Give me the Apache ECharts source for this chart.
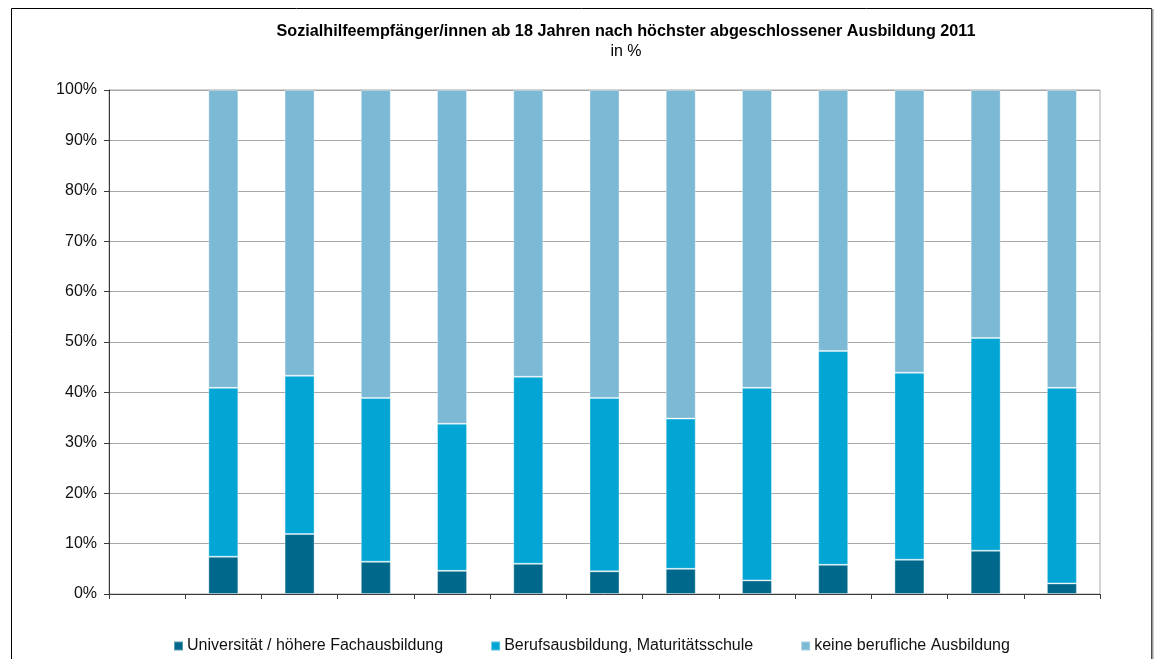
<!DOCTYPE html>
<html>
<head>
<meta charset="utf-8">
<script src="https://cdn.jsdelivr.net/npm/echarts@6/dist/echarts.min.js"></script>
<style>
  html, body { margin: 0; padding: 0; background: #fff; }
  #chart { width: 1162px; height: 659px; }
</style>
</head>
<body>
<div id="chart"></div>
<script>
// Category slots along the x axis (labels are not shown; the first slot has no data)
const categories = ['', 'A', 'B', 'C', 'D', 'E', 'F', 'G', 'H', 'I', 'J', 'K', 'L'];

// Shares in percent per category
const universitaet = [null, 7.4, 11.9, 6.4, 4.6, 6.0, 4.5, 5.0, 2.7, 5.8, 6.8, 8.6, 2.1];
const berufsausbildung = [null, 33.5, 31.4, 32.5, 29.2, 37.1, 34.4, 29.8, 38.2, 42.4, 37.1, 42.2, 38.8];
const keineAusbildung = [null, 59.1, 56.7, 61.1, 66.2, 56.9, 61.1, 65.2, 59.1, 51.8, 56.1, 49.2, 59.1];

const seriesNames = [
  'Universität / höhere Fachausbildung',
  'Berufsausbildung, Maturitätsschule',
  'keine berufliche Ausbildung'
];
const seriesColors = ['#00698b', '#02a5d3', '#7bb9d4'];

const yTicks = [0, 10, 20, 30, 40, 50, 60, 70, 80, 90, 100];

const sans = '"Liberation Sans", Arial, sans-serif';

const chart = echarts.init(document.getElementById('chart'), null, { renderer: 'canvas' });

function barSeries(name, data, color) {
  return {
    name: name,
    type: 'bar',
    stack: 'total',
    barWidth: 30,
    data: data,
    itemStyle: { color: color, borderColor: 'rgba(255,255,255,0.35)', borderWidth: 1 },
    emphasis: { disabled: true }
  };
}

chart.setOption({
  animation: false,
  backgroundColor: '#fff',
  title: {
    text: 'Sozialhilfeempfänger/innen ab 18 Jahren nach höchster abgeschlossener Ausbildung 2011',
    subtext: 'in %',
    left: 621,
    textAlign: 'center',
    top: 19,
    itemGap: 4,
    textStyle: { fontFamily: sans, fontWeight: 'bold', fontSize: 16.2, color: '#000' },
    subtextStyle: { fontFamily: sans, fontSize: 16, color: '#000' }
  },
  legend: {
    top: 633,
    left: 168,
    itemWidth: 9,
    itemHeight: 9,
    itemGap: 47,
    icon: 'rect',
    textStyle: { fontFamily: sans, fontSize: 16, color: '#111', padding: [0, 0, 0, -1] },
    data: seriesNames
  },
  grid: {
    left: 109, right: 62, top: 90, bottom: 65,
    show: true, borderColor: '#a6a6a6', borderWidth: 1
  },
  xAxis: {
    type: 'category',
    data: categories,
    boundaryGap: true,
    axisLine: { lineStyle: { color: '#3a3a3a', width: 1 } },
    axisTick: { show: true, length: 5, inside: false, lineStyle: { color: '#3a3a3a' } },
    axisLabel: { show: false },
    splitLine: { show: false }
  },
  yAxis: {
    type: 'value',
    min: yTicks[0],
    max: yTicks[yTicks.length - 1],
    interval: 10,
    axisLine: { show: true, lineStyle: { color: '#3a3a3a', width: 1 } },
    axisTick: { show: true, length: 5, lineStyle: { color: '#3a3a3a' } },
    axisLabel: {
      margin: 12,
      fontFamily: sans,
      fontSize: 16,
      color: '#111',
      formatter: v => v + '%'
    },
    splitLine: { show: true, lineStyle: { color: '#a8a8a8', width: 1 } }
  },
  graphic: [
    {
      type: 'rect',
      shape: { x: 11.5, y: 8.5, width: 1140, height: 700 },
      style: { fill: 'none', stroke: '#000', lineWidth: 1 },
      silent: true
    },
    {
      type: 'line',
      shape: { x1: 1152.5, y1: 9, x2: 1152.5, y2: 659 },
      style: { stroke: '#9a9a9a', lineWidth: 2 },
      silent: true
    }
  ],
  series: [
    barSeries(seriesNames[0], universitaet, seriesColors[0]),
    barSeries(seriesNames[1], berufsausbildung, seriesColors[1]),
    barSeries(seriesNames[2], keineAusbildung, seriesColors[2])
  ]
});
</script>
</body>
</html>
